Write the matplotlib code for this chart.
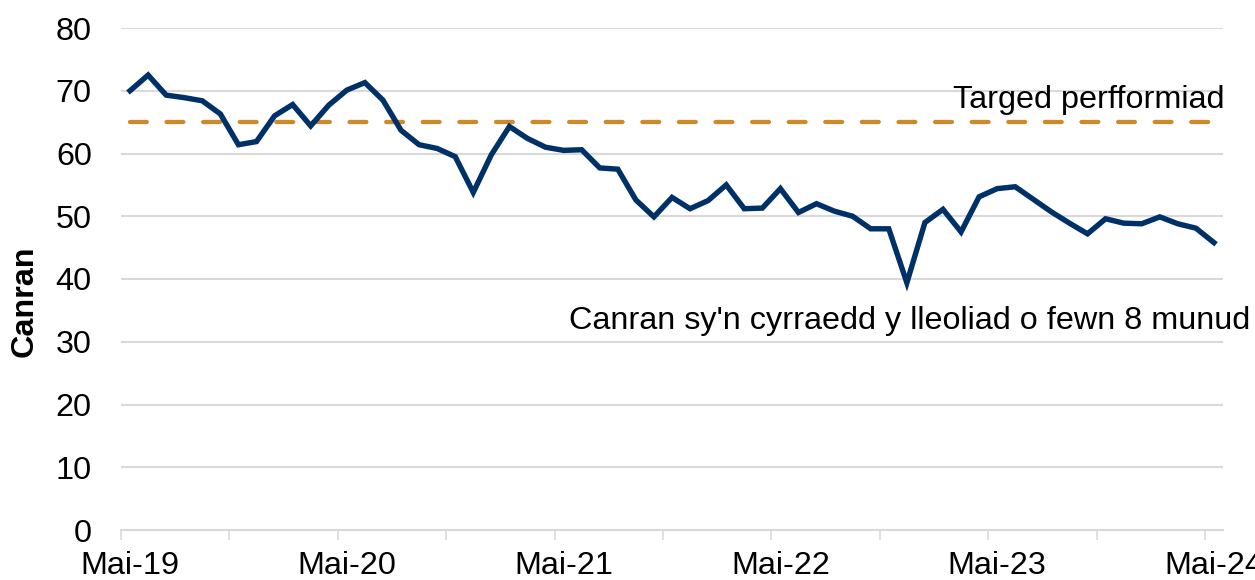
import numpy as np
import matplotlib
matplotlib.use("Agg")
import matplotlib.pyplot as plt

plt.rcParams['font.family'] = ['Liberation Sans', 'DejaVu Sans']

# monthly values, Mai 2019 to Mai 2024
canran = [70.0, 72.5, 69.3, 68.9, 68.4, 66.3, 61.4, 61.9, 66.0, 67.8,
          64.4, 67.7, 70.1, 71.3, 68.5, 63.7, 61.4, 60.8, 59.5, 53.8,
          59.8, 64.3, 62.4, 61.0, 60.5, 60.6, 57.7, 57.5, 52.6, 49.9,
          53.0, 51.2, 52.5, 55.0, 51.2, 51.3, 54.4, 50.6, 52.0, 50.8,
          50.0, 48.0, 48.0, 39.4, 49.0, 51.1, 47.5, 53.1, 54.4, 54.7,
          52.7, 50.7, 48.9, 47.2, 49.6, 48.9, 48.8, 49.9, 48.8, 48.1,
          45.8]
targed = [65] * len(canran)
label_pos = [0, 12, 24, 36, 48, 60]
labels = ['Mai-19', 'Mai-20', 'Mai-21', 'Mai-22', 'Mai-23', 'Mai-24']

fig = plt.figure(figsize=(12.55, 5.8), dpi=100)
ax = fig.add_axes([121 / 1255, 1 - 530 / 580, 1102 / 1255, 502 / 580])

x = np.arange(len(canran))
ax.plot(x, targed, color='#CC8A2A', lw=3.1, dashes=(3.9, 4.6),
        dash_capstyle='round', zorder=3)
ax.plot(x, canran, color='#003068', lw=3.9, solid_joinstyle='miter', zorder=4)

ax.set_xlim(-0.5, len(canran) - 0.5)
ax.set_ylim(0, 80)
ax.set_yticks(range(0, 81, 10))
ax.yaxis.grid(True, color='#d9d9d9', lw=1.5)
ax.set_axisbelow(True)

ax.set_xticks(label_pos)
ax.set_xticklabels(labels)
ax.set_xticks(np.arange(-0.5, 60, 6), minor=True)
ax.tick_params(axis='x', which='major', length=0, pad=15, labelsize=23.3)
ax.tick_params(axis='x', which='minor', length=7, width=1.2, color='#d9d9d9')
ax.tick_params(axis='y', length=0, pad=21, labelsize=23.3)

for s in ['top', 'right', 'left']:
    ax.spines[s].set_visible(False)
ax.spines['bottom'].set_color('#d9d9d9')
ax.spines['bottom'].set_linewidth(1.5)

ax.set_ylabel('Canran', fontsize=23.3, fontweight='bold')
ax.yaxis.set_label_coords(-0.0735, 0.456)

ax.text(60.6, 67.2, 'Targed perfformiad', ha='right', va='baseline',
        fontsize=23.3, clip_on=False)
ax.text(62.0, 32.0, "Canran sy'n cyrraedd y lleoliad o fewn 8 munud",
        ha='right', va='baseline', fontsize=23.3, clip_on=False)

fig.savefig('out.png', dpi=100)
